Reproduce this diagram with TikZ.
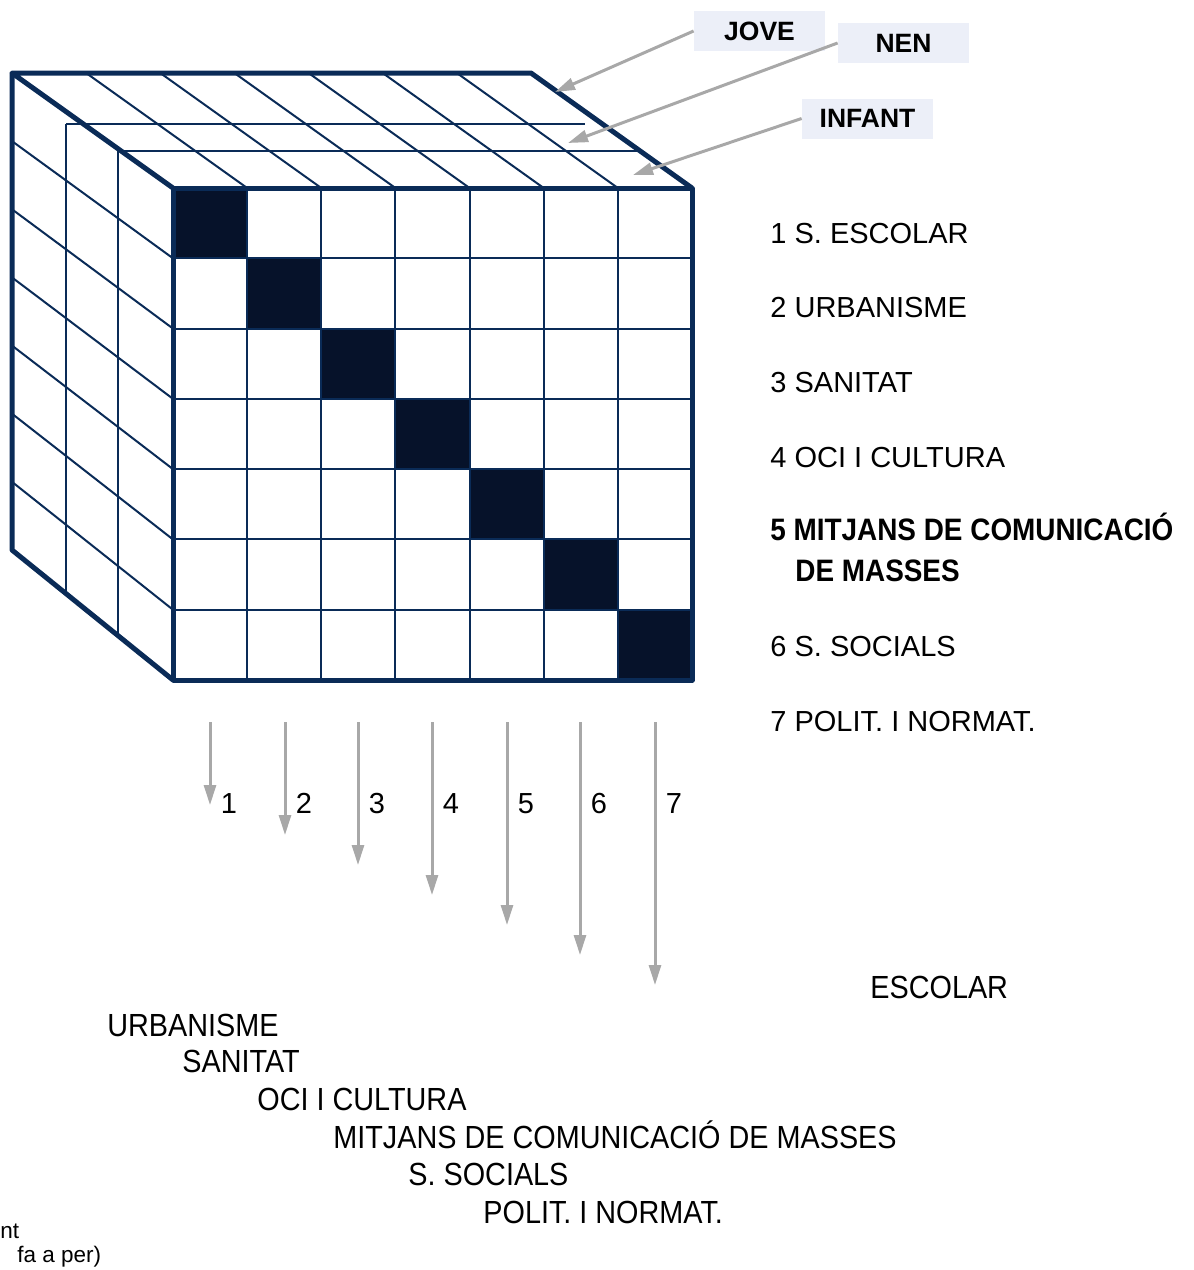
\documentclass[tikz,border=0pt]{standalone}
\usepackage{fontspec}
\setmainfont{Liberation Sans}
\newfontfamily\narrowfont[FakeStretch=0.9]{Liberation Sans}
\usetikzlibrary{arrows.meta}
\definecolor{cubeline}{HTML}{0A2B57}
\definecolor{cubecell}{HTML}{06122A}
\definecolor{arrowgray}{HTML}{A8A8A8}
\definecolor{agefill}{HTML}{ECEFF8}

\begin{document}
\begin{tikzpicture}[x=0.5pt, y=-0.5pt,
    edge/.style={cubeline, line width=2.5pt, line join=round},
    grid/.style={cubeline, line width=1pt},
    pointer/.style={-{Triangle[length=10pt, width=6pt]}, arrowgray, line width=1.5pt},
    agebox/.style={rectangle, fill=agefill, inner sep=0pt,
                   minimum width=65.5pt, minimum height=20pt,
                   font=\bfseries\fontsize{13.25}{15}\selectfont},
    legend/.style={anchor=base west, inner sep=0pt, font=\fontsize{14.5}{17}\selectfont},
    colnum/.style={anchor=base, inner sep=0pt, font=\fontsize{14.5}{17}\selectfont},
    sector/.style={anchor=base west, inner sep=0pt, font=\narrowfont\fontsize{16}{19}\selectfont},
    note/.style={anchor=base west, inner sep=0pt, font=\fontsize{11.25}{13}\selectfont}
]
\useasboundingbox (0,0) rectangle (1194,1270);

% top and left faces
\foreach \i in {1,...,6}
    \draw[grid] (12+74.14*\i,73) -- (173+74.14*\i,188);
\foreach \j in {1,...,6}
    \draw[grid] (12,73+68.14*\j) -- (173,188+70.29*\j);
\foreach \x/\y/\b in {66/124/593, 118/151/637} {
    \draw[grid] (\x,\y) -- (\x+519,\y);
    \draw[grid] (\x,\y) -- (\x,\b);
}

% front face
\fill[white] (173,188) rectangle (692,680);
\foreach \i in {0,...,6}
    \fill[cubecell] (173+74.14*\i,188+70.29*\i) rectangle ++(74.14,70.29);
\foreach \i in {1,...,6} {
    \draw[grid] (173+74.14*\i,188) -- (173+74.14*\i,680);
    \draw[grid] (173,188+70.29*\i) -- (692,188+70.29*\i);
}
\draw[edge] (173,188) rectangle (692,680);
\draw[edge] (173,188) -- (12,73) -- (531,73) -- (692,188);
\draw[edge] (12,73) -- (12,550) -- (173,680);

\node[agebox] (jove) at (759.5,31) {JOVE};
\node[agebox] (nen) at (903.5,43) {NEN};
\node[agebox] (infant) at (867.5,118.5) {INFANT};
\coordinate (joveTip) at (555,92);
\coordinate (nenTip) at (568,143);
\coordinate (infantTip) at (633,175);
\draw[pointer] (jove.west) -- (joveTip);
\draw[pointer] (nen.west) -- (nenTip);
\draw[pointer] (infant.west) -- (infantTip);

\node[legend] (sec1) at (770,243) {1 S. ESCOLAR};
\node[legend] (sec2) at (770,317) {2 URBANISME};
\node[legend] (sec3) at (770,392) {3 SANITAT};
\node[legend] (sec4) at (770,467) {4 OCI I CULTURA};
\node[legend, font=\narrowfont\bfseries\fontsize{15.5}{18}\selectfont] (sec5) at (770,540) {5 MITJANS DE COMUNICACIÓ};
\node[legend, font=\narrowfont\bfseries\fontsize{15.5}{18}\selectfont] (sec5b) at (795,581) {DE MASSES};
\node[legend] (sec6) at (770,656) {6 S. SOCIALS};
\node[legend] (sec7) at (770,731) {7 POLIT. I NORMAT.};

\foreach \i/\x in {1/210,2/285,3/358,4/432,5/507,6/580,7/655} {
    \coordinate (top\i) at (\x,722);
    \coordinate (tip\i) at (\x,775+30*\i);
    \draw[pointer] (top\i) -- (tip\i);
    \node[colnum] (num\i) at (\x+19,813) {\i};
}

\node[sector] (row1) at (870,998.5) {ESCOLAR};
\node[sector] (row2) at (107,1036.5) {URBANISME};
\node[sector] (row3) at (182,1072.5) {SANITAT};
\node[sector] (row4) at (257,1110.5) {OCI I CULTURA};
\node[sector] (row5) at (333,1148.5) {MITJANS DE COMUNICACIÓ DE MASSES};
\node[sector] (row6) at (408,1185.5) {S. SOCIALS};
\node[sector] (row7) at (483,1223.5) {POLIT. I NORMAT.};

\node[note] (cut1) at (0,1238) {nt};
\node[note] (cut2) at (17,1262) {fa a per)};
\end{tikzpicture}
\end{document}
